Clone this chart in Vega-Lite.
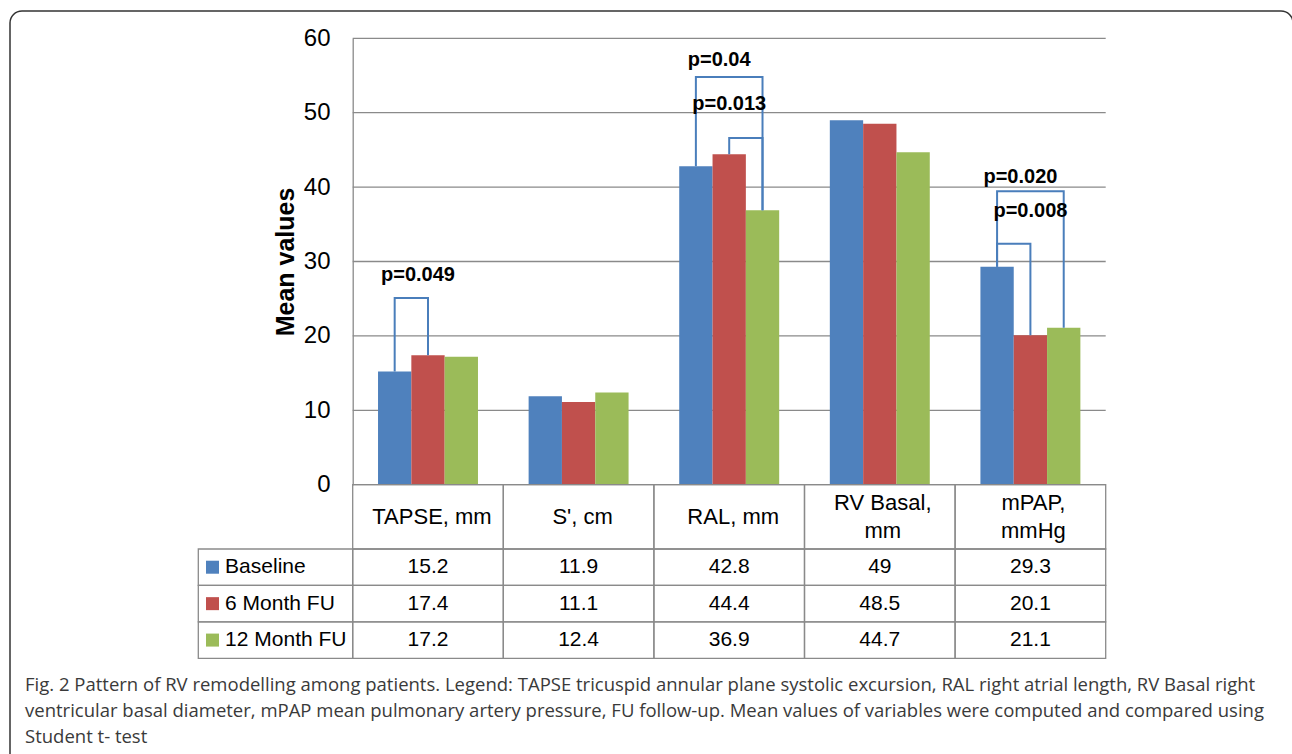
{
  "$schema": "https://vega.github.io/schema/vega-lite/v6.json",
  "width": 1283,
  "height": 760,
  "autosize": {"type": "none"},
  "padding": {"left": 10, "top": 11, "right": 0, "bottom": 0},
  "background": "white",
  "config": {
    "view": {"stroke": "#333333", "strokeWidth": 1.5, "cornerRadius": 12, "fill": "white"},
    "font": "Liberation Sans",
    "axisY": {
      "grid": false, "ticks": false, "tickSize": 0,
      "domain": true, "domainColor": "#8a8a8a", "domainWidth": 1.3,
      "labelFont": "Liberation Sans", "labelFontSize": 24, "labelColor": "#000000", "labelPadding": 22.7,
      "titleFont": "Liberation Sans", "titleFontSize": 25, "titleFontWeight": "bold", "titleColor": "#000000", "titlePadding": 5
    }
  },
  "title": {
    "text": [
      "Fig. 2 Pattern of RV remodelling among patients. Legend: TAPSE tricuspid annular plane systolic excursion, RAL right atrial length, RV Basal right",
      "ventricular basal diameter, mPAP mean pulmonary artery pressure, FU follow-up. Mean values of variables were computed and compared using",
      "Student t- test"
    ],
    "orient": "bottom",
    "anchor": "start",
    "frame": "group",
    "offset": -95,
    "dx": 15,
    "font": "Open Sans",
    "fontSize": 18.5,
    "fontWeight": "normal",
    "color": "#3a3a3a",
    "lineHeight": 26,
    "baseline": "top"
  },
  "datasets": {
    "vals": [
      {"measure": "TAPSE, mm", "series": "Baseline", "value": 15.2},
      {"measure": "TAPSE, mm", "series": "6 Month FU", "value": 17.4},
      {"measure": "TAPSE, mm", "series": "12 Month FU", "value": 17.2},
      {"measure": "S', cm", "series": "Baseline", "value": 11.9},
      {"measure": "S', cm", "series": "6 Month FU", "value": 11.1},
      {"measure": "S', cm", "series": "12 Month FU", "value": 12.4},
      {"measure": "RAL, mm", "series": "Baseline", "value": 42.8},
      {"measure": "RAL, mm", "series": "6 Month FU", "value": 44.4},
      {"measure": "RAL, mm", "series": "12 Month FU", "value": 36.9},
      {"measure": "RV Basal, mm", "series": "Baseline", "value": 49},
      {"measure": "RV Basal, mm", "series": "6 Month FU", "value": 48.5},
      {"measure": "RV Basal, mm", "series": "12 Month FU", "value": 44.7},
      {"measure": "mPAP, mmHg", "series": "Baseline", "value": 29.3},
      {"measure": "mPAP, mmHg", "series": "6 Month FU", "value": 20.1},
      {"measure": "mPAP, mmHg", "series": "12 Month FU", "value": 21.1}
    ],
    "headers": [
      {"measure": "TAPSE, mm", "header": "TAPSE, mm"},
      {"measure": "S', cm", "header": "S', cm"},
      {"measure": "RAL, mm", "header": "RAL, mm"},
      {"measure": "RV Basal, mm", "header": "RV Basal,\nmm"},
      {"measure": "mPAP, mmHg", "header": "mPAP,\nmmHg"}
    ],
    "grid": [{"v": 0}, {"v": 10}, {"v": 20}, {"v": 30}, {"v": 40}, {"v": 50}, {"v": 60}],
    "series": [{"series": "Baseline"}, {"series": "6 Month FU"}, {"series": "12 Month FU"}],
    "brackets": [
      {"bracket": "b1", "measure": "TAPSE, mm", "series": "Baseline", "value": 15.2, "pt": 1},
      {"bracket": "b1", "measure": "TAPSE, mm", "series": "Baseline", "value": 25.1, "pt": 2},
      {"bracket": "b1", "measure": "TAPSE, mm", "series": "6 Month FU", "value": 25.1, "pt": 3},
      {"bracket": "b1", "measure": "TAPSE, mm", "series": "6 Month FU", "value": 17.4, "pt": 4},
      {"bracket": "b2", "measure": "RAL, mm", "series": "Baseline", "value": 42.8, "pt": 1},
      {"bracket": "b2", "measure": "RAL, mm", "series": "Baseline", "value": 54.8, "pt": 2},
      {"bracket": "b2", "measure": "RAL, mm", "series": "12 Month FU", "value": 54.8, "pt": 3},
      {"bracket": "b2", "measure": "RAL, mm", "series": "12 Month FU", "value": 36.9, "pt": 4},
      {"bracket": "b3", "measure": "RAL, mm", "series": "6 Month FU", "value": 44.4, "pt": 1},
      {"bracket": "b3", "measure": "RAL, mm", "series": "6 Month FU", "value": 46.6, "pt": 2},
      {"bracket": "b3", "measure": "RAL, mm", "series": "12 Month FU", "value": 46.6, "pt": 3},
      {"bracket": "b3", "measure": "RAL, mm", "series": "12 Month FU", "value": 36.9, "pt": 4},
      {"bracket": "b4", "measure": "mPAP, mmHg", "series": "Baseline", "value": 29.3, "pt": 1},
      {"bracket": "b4", "measure": "mPAP, mmHg", "series": "Baseline", "value": 39.45, "pt": 2},
      {"bracket": "b4", "measure": "mPAP, mmHg", "series": "12 Month FU", "value": 39.45, "pt": 3},
      {"bracket": "b4", "measure": "mPAP, mmHg", "series": "12 Month FU", "value": 21.1, "pt": 4},
      {"bracket": "b5", "measure": "mPAP, mmHg", "series": "Baseline", "value": 29.3, "pt": 1},
      {"bracket": "b5", "measure": "mPAP, mmHg", "series": "Baseline", "value": 32.4, "pt": 2},
      {"bracket": "b5", "measure": "mPAP, mmHg", "series": "6 Month FU", "value": 32.4, "pt": 3},
      {"bracket": "b5", "measure": "mPAP, mmHg", "series": "6 Month FU", "value": 20.1, "pt": 4}
    ],
    "plabels": [
      {"measure": "TAPSE, mm", "label": "p=0.049", "y": 27.4, "kind": "outer"},
      {"measure": "RAL, mm", "label": "p=0.04", "y": 56.3, "kind": "outer"},
      {"measure": "RAL, mm", "label": "p=0.013", "y": 50.4, "kind": "inner"},
      {"measure": "mPAP, mmHg", "label": "p=0.020", "y": 40.6, "kind": "outer"},
      {"measure": "mPAP, mmHg", "label": "p=0.008", "y": 36.0, "kind": "inner"}
    ]
  },
  "layer": [
    {
      "layer": [
        {
          "data": {"name": "grid"},
          "mark": {"type": "rule", "color": "#8a8a8a", "strokeWidth": 1.3},
          "encoding": {
            "x": {"datum": "TAPSE, mm", "bandPosition": 0, "axis": null},
            "x2": {"datum": "mPAP, mmHg", "bandPosition": 1},
            "y": {
              "field": "v", "type": "quantitative", "title": "Mean values",
              "scale": {"domain": [0, 60], "range": [473.7, 27.3], "nice": false},
              "axis": {"values": [0, 10, 20, 30, 40, 50, 60], "offset": -342.7, "title": "Mean values"}
            }
          }
        },
        {
          "data": {"name": "vals"},
          "mark": {"type": "bar"},
          "encoding": {
            "x": {
              "field": "measure", "type": "nominal",
              "scale": {"domain": ["legend", "TAPSE, mm", "S', cm", "RAL, mm", "RV Basal, mm", "mPAP, mmHg"], "range": [192.1, 1095.7], "paddingInner": 0, "paddingOuter": 0},
              "axis": null
            },
            "xOffset": {
              "field": "series", "type": "nominal",
              "scale": {"domain": ["Baseline", "6 Month FU", "12 Month FU"], "paddingInner": 0, "paddingOuter": 0.76}
            },
            "y": {"field": "value", "type": "quantitative", "title": "Mean values"},
            "color": {
              "field": "series", "type": "nominal",
              "scale": {"domain": ["Baseline", "6 Month FU", "12 Month FU"], "range": ["#4F81BD", "#C0504D", "#9BBB59"]},
              "legend": null
            }
          }
        },
        {
          "data": {"name": "headers"},
          "mark": {"type": "rect", "fill": "transparent", "stroke": "#8a8a8a", "strokeWidth": 1.3},
          "encoding": {
            "x": {"field": "measure", "type": "nominal", "axis": null},
            "y": {"datum": 0, "title": "Mean values"},
            "y2": {"datum": -8.64}
          }
        },
        {
          "data": {"name": "headers"},
          "transform": [{"filter": "indexof(datum.header, '\\n') < 0"}],
          "mark": {"type": "text", "fontSize": 22, "baseline": "middle", "align": "center", "dx": 4, "color": "#000000"},
          "encoding": {
            "x": {"field": "measure", "type": "nominal", "axis": null},
            "y": {"datum": -4.3, "title": "Mean values"},
            "text": {"field": "header"}
          }
        },
        {
          "data": {"name": "headers"},
          "transform": [{"filter": "indexof(datum.header, '\\n') >= 0"}],
          "mark": {"type": "text", "fontSize": 22, "lineBreak": "\n", "lineHeight": 28, "baseline": "middle", "align": "center", "dx": 3, "color": "#000000"},
          "encoding": {
            "x": {"field": "measure", "type": "nominal", "axis": null},
            "y": {"datum": -2.45, "title": "Mean values"},
            "text": {"field": "header"}
          }
        },
        {
          "data": {"name": "brackets"},
          "mark": {"type": "line", "color": "#4A7EBB", "strokeWidth": 2},
          "encoding": {
            "x": {"field": "measure", "type": "nominal", "axis": null},
            "xOffset": {"field": "series", "type": "nominal"},
            "y": {"field": "value", "type": "quantitative", "title": "Mean values"},
            "detail": {"field": "bracket"},
            "order": {"field": "pt", "type": "quantitative"}
          }
        },
        {
          "data": {"name": "plabels"},
          "transform": [{"filter": "datum.kind === 'outer'"}],
          "mark": {"type": "text", "fontSize": 20, "fontWeight": "bold", "baseline": "alphabetic", "align": "center", "dx": -10, "color": "#000000"},
          "encoding": {
            "x": {"field": "measure", "type": "nominal", "axis": null},
            "y": {"field": "y", "type": "quantitative", "title": "Mean values"},
            "text": {"field": "label"}
          }
        },
        {
          "data": {"name": "plabels"},
          "transform": [{"filter": "datum.kind === 'inner'"}],
          "mark": {"type": "text", "fontSize": 20, "fontWeight": "bold", "baseline": "alphabetic", "align": "center", "dx": 0, "color": "#000000"},
          "encoding": {
            "x": {"field": "measure", "type": "nominal", "axis": null},
            "y": {"field": "y", "type": "quantitative", "title": "Mean values"},
            "text": {"field": "label"}
          }
        }
      ]
    },
    {
      "layer": [
        {
          "data": {"name": "vals"},
          "mark": {"type": "rect", "fill": "transparent", "stroke": "#8a8a8a", "strokeWidth": 1.3},
          "encoding": {
            "x": {"field": "measure", "type": "nominal", "axis": null},
            "y": {
              "field": "series", "type": "nominal",
              "scale": {"domain": ["Baseline", "6 Month FU", "12 Month FU"], "range": [538, 647.3], "paddingInner": 0, "paddingOuter": 0},
              "axis": null
            }
          }
        },
        {
          "data": {"name": "vals"},
          "mark": {"type": "text", "fontSize": 21, "baseline": "middle", "align": "center", "color": "#000000"},
          "encoding": {
            "x": {"field": "measure", "type": "nominal", "axis": null},
            "y": {"field": "series", "type": "nominal", "axis": null},
            "text": {"field": "value", "type": "quantitative"}
          }
        },
        {
          "data": {"name": "series"},
          "mark": {"type": "rect", "fill": "transparent", "stroke": "#8a8a8a", "strokeWidth": 1.3, "xOffset": -3.8},
          "encoding": {
            "x": {"datum": "legend", "bandPosition": 0, "axis": null},
            "x2": {"datum": "TAPSE, mm", "bandPosition": 0},
            "y": {"field": "series", "type": "nominal", "axis": null}
          }
        },
        {
          "data": {"name": "series"},
          "mark": {"type": "square", "filled": true, "opacity": 1, "size": 169, "xOffset": 10.4},
          "encoding": {
            "x": {"datum": "legend", "bandPosition": 0, "axis": null},
            "y": {"field": "series", "type": "nominal", "axis": null},
            "color": {"field": "series", "type": "nominal", "legend": null}
          }
        },
        {
          "data": {"name": "series"},
          "mark": {"type": "text", "fontSize": 21, "baseline": "middle", "align": "left", "dx": 23, "color": "#000000"},
          "encoding": {
            "x": {"datum": "legend", "bandPosition": 0, "axis": null},
            "y": {"field": "series", "type": "nominal", "axis": null},
            "text": {"field": "series"}
          }
        }
      ]
    }
  ],
  "resolve": {"scale": {"y": "independent"}}
}
